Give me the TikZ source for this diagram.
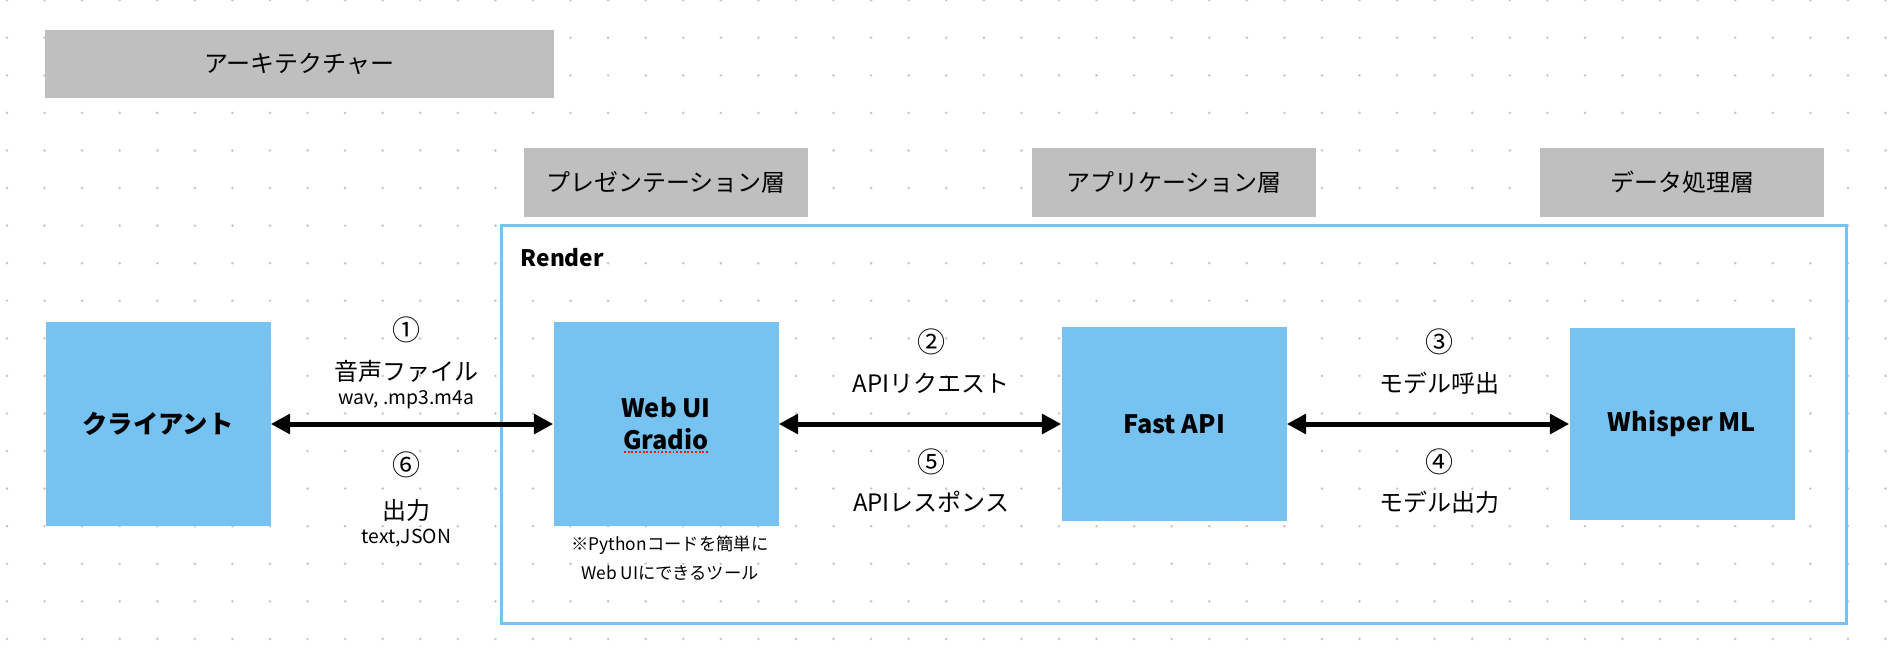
\documentclass[tikz,border=0pt]{standalone}
\usepackage{fontspec}
\setmainfont{Noto Sans CJK JP}
\usetikzlibrary{arrows.meta,positioning}
\definecolor{boxblue}{RGB}{118,194,240}
\definecolor{headgray}{RGB}{191,191,191}
\definecolor{dotgray}{RGB}{200,200,200}
\tikzset{
  compbox/.style={rectangle, fill=boxblue, minimum width=168.75pt, minimum height=153pt,
    align=center, font=\bfseries\fontsize{19}{24}\selectfont},
  headbox/.style={rectangle, fill=headgray, minimum width=213pt, minimum height=51.75pt,
    font=\fontsize{18}{20}\selectfont},
  flow/.style={<->, line width=3.75pt},
  lbl/.style={font=\fontsize{18}{20}\selectfont, pos=#1},
  lbl/.default=0.54,
  numlbl/.style={font=\fontsize{21}{22}\selectfont, pos=#1},
  numlbl/.default=0.54,
  sublbl/.style={font=\fontsize{14.5}{16}\selectfont, pos=#1},
  sublbl/.default=0.54,
}
\begin{document}
\begin{tikzpicture}[x=0.75pt, y=-0.75pt, >={Triangle[length=14.5pt,width=14.5pt]}, node distance=381pt]
  \useasboundingbox (0,0) rectangle (1898,662);
  % dotted canvas
  \foreach \i in {0,...,50}
    \foreach \j in {0,...,17}
      \fill[dotgray] (7+37.57*\i, 0.2+37.57*\j) circle[radius=1.1pt];

  \node[headbox, minimum width=381.75pt, minimum height=51pt] (title) at (299.5,64) {アーキテクチャー};

  \node[headbox] (presentation) at (666,182.5) {プレゼンテーション層};
  \node[headbox, right of=presentation] (application) {アプリケーション層};
  \node[headbox, right of=application] (datalayer) {データ処理層};

  \draw[boxblue, line width=2.25pt] (501,225) rectangle (1846,623);
  \node[anchor=west, font=\bfseries\fontsize{17}{20}\selectfont] (render) at (516,258) {Render};

  \node[compbox] (client) at (158,424) {クライアント};
  \node[compbox, right of=client] (webui) {Web UI\\Gradio};
  \node[compbox, right of=webui, minimum height=145.5pt] (fastapi) {Fast API};
  \node[compbox, right of=fastapi, minimum height=144pt] (whisper) {Whisper ML};

  \draw[red!85!orange, line width=1.3pt, dash pattern=on 1.4pt off 1.4pt]
    ([xshift=-31.5pt, yshift=-21.2pt]webui.center) -- ++(84,0);

  \node[align=center, font=\fontsize{13}{21.75}\selectfont] (note) at (670,558) {※Pythonコードを簡単に\\Web UIにできるツール};

  \path (client) edge[flow]
      node[numlbl=0.48, yshift=70.5pt] {①}
      node[lbl=0.48, yshift=39.75pt] {音声ファイル}
      node[sublbl=0.48, yshift=18pt] {wav, .mp3.m4a}
      node[numlbl=0.48, yshift=-30.75pt] {⑥}
      node[lbl=0.48, yshift=-64.5pt] {出力}
      node[sublbl=0.48, yshift=-85.5pt] {text,JSON} (webui);
  \path (webui) edge[flow]
      node[numlbl, yshift=61.5pt] {②}
      node[lbl, yshift=30.75pt] {APIリクエスト}
      node[numlbl, yshift=-28.5pt] {⑤}
      node[lbl, yshift=-58.5pt] {APIレスポンス} (fastapi);
  \path (fastapi) edge[flow]
      node[numlbl, yshift=61.5pt] {③}
      node[lbl, yshift=30.75pt] {モデル呼出}
      node[numlbl, yshift=-28.5pt] {④}
      node[lbl, yshift=-58.5pt] {モデル出力} (whisper);
\end{tikzpicture}
\end{document}
